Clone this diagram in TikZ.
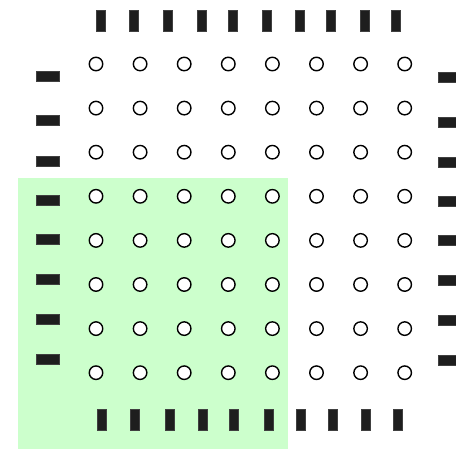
\documentclass[tikz,border=0pt]{standalone}
\usetikzlibrary{shapes}
\definecolor{padgreen}{RGB}{204,255,204}
\definecolor{bardark}{RGB}{30,30,30}

\begin{document}
\begin{tikzpicture}[x=1pt,y=-1pt,
  hole/.style={circle,draw=black,fill=white,line width=1.4pt,
    minimum size=13.5pt,inner sep=0pt},
  vbar/.style={rectangle,draw=black!75,fill=bardark,line width=0.6pt,
    minimum width=9pt,minimum height=21pt,inner sep=0pt},
  hbar/.style={rectangle,draw=black!75,fill=bardark,line width=0.6pt,
    minimum width=23pt,minimum height=10pt,inner sep=0pt}]
 			\clip (0,0) rectangle (456,449);
 			%% green area
 			\fill[padgreen] (18,178) rectangle (288,449);
 			%% grid of holes
 			\foreach \i in {0,...,7}
 				\foreach \j in {0,...,7}
 					\node[hole] (h\i\j) at ({96+44.1*\i},{64+44.1*\j}) {};
 			%% top and bottom bars
 			\foreach \x [count=\k] in {101,134,168,202,233,267,300,331,365,396}
 				\node[vbar] (top\k) at (\x,20.5) {};
 			\foreach \x [count=\k] in {102,135,170,203,234,269,301,333,366,398}
 				\node[vbar] (bot\k) at (\x,419.5) {};
 			%% left and right bars
 			\foreach \y [count=\k] in {76,120,161,200,239,279,319,359}
 				\node[hbar] (lft\k) at (48,\y) {};
 			\foreach \y [count=\k] in {77,122,162,201,240,280,320,360}
 				\node[hbar] (rgt\k) at (449.5,\y) {};
 		\end{tikzpicture}
\end{document}
